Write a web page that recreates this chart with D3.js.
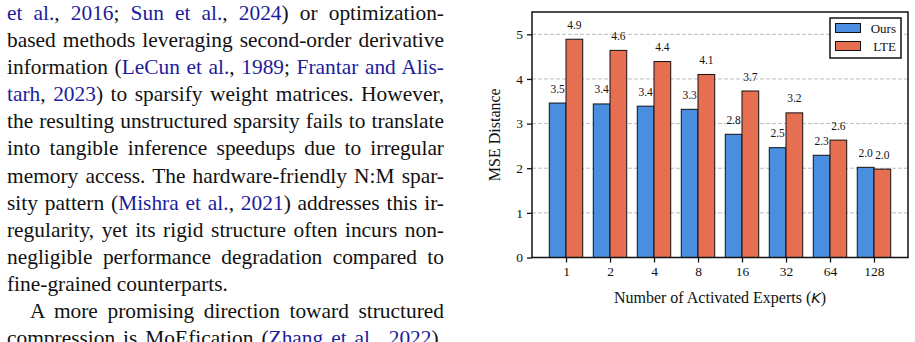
<!DOCTYPE html>
<html lang="en">
<head>
<meta charset="utf-8">
<script src="https://cdn.jsdelivr.net/npm/d3@7"></script>
<style>
  html, body { margin: 0; padding: 0; background: #fff; }
  body { width: 915px; height: 342px; overflow: hidden; position: relative; }
  #text { position: absolute; left: 7px; top: 0; width: 437px;
          font-family: "Liberation Serif", "Times New Roman", serif; font-size: 21.4px;
          line-height: 27.1px; color: #111; }
  #text div { white-space: nowrap; text-align: justify; text-align-last: justify; }
  #text div.last { text-align-last: left; }
  #text div.indent { padding-left: 23px; }
  #text a { color: #1c1c9c; text-decoration: none; }
  #chart { position: absolute; left: 0; top: 0; }
  .tick text { font-family: "Liberation Serif", "Times New Roman", serif; font-size: 13.5px; fill: #111; }
</style>
</head>
<body>

<div id="text">
  <div><a>et al.</a>, <a>2016</a>; <a>Sun et al.</a>, <a>2024</a>) or optimization-</div>
  <div>based methods leveraging second-order derivative</div>
  <div>information (<a>LeCun et al.</a>, <a>1989</a>; <a>Frantar and Alis-</a></div>
  <div><a>tarh</a>, <a>2023</a>) to sparsify weight matrices. However,</div>
  <div>the resulting unstructured sparsity fails to translate</div>
  <div>into tangible inference speedups due to irregular</div>
  <div>memory access. The hardware-friendly N:M spar-</div>
  <div>sity pattern (<a>Mishra et al.</a>, <a>2021</a>) addresses this ir-</div>
  <div>regularity, yet its rigid structure often incurs non-</div>
  <div>negligible performance degradation compared to</div>
  <div class="last">fine-grained counterparts.</div>
  <div class="indent">A more promising direction toward structured</div>
  <div>compression is MoEfication (<a>Zhang et al.</a>, <a>2022</a>),</div>
</div>

<svg id="chart" width="915" height="342"></svg>

<script type="text/javascript">
  "use strict";

  // data
  const categories = ["1", "2", "4", "8", "16", "32", "64", "128"];
  const ours = [3.46, 3.44, 3.39, 3.32, 2.76, 2.46, 2.29, 2.02];
  const lte  = [4.89, 4.64, 4.39, 4.10, 3.73, 3.24, 2.63, 1.98];
  const seriesNames = ["Ours", "LTE"];
  const yTicks = [0, 1, 2, 3, 4, 5];

  const colors = { Ours: "#4a8ee0", LTE: "#e76f51" };
  const serif = '"Liberation Serif", "Times New Roman", serif';

  // squeeze any justified line that is wider than the column
  d3.selectAll("#text div").each(function () {
    const el = this;
    let ls = 0;
    while (el.scrollWidth > el.clientWidth + 0.5 && ls > -1.5) {
      ls -= 0.05;
      el.style.letterSpacing = ls + "px";
    }
  });

  const pl = 532, pr = 908, pt = 12, pb = 257.5;
  const barW = 0.38;

  const svg = d3.select("#chart");

  const x = d3.scaleLinear().domain([-0.773, categories.length - 1 + 0.773]).range([pl, pr]);
  const y = d3.scaleLinear().domain([0, 5.5]).range([pb, pt]);

  // dashed grid
  svg.append("g").selectAll("line")
    .data(yTicks.filter(d => d > 0))
    .join("line")
      .attr("x1", pl).attr("x2", pr)
      .attr("y1", d => y(d)).attr("y2", d => y(d))
      .attr("stroke", "#bdbdbd").attr("stroke-width", 1)
      .attr("stroke-dasharray", "4,2");

  const series = [
    { name: "Ours", values: ours, off: -barW },
    { name: "LTE", values: lte, off: 0 }
  ];

  series.forEach(s => {
    const g = svg.append("g");
    g.selectAll("rect")
      .data(s.values)
      .join("rect")
        .attr("x", (d, i) => x(i + s.off))
        .attr("width", x(barW) - x(0))
        .attr("y", d => y(d))
        .attr("height", d => y(0) - y(d))
        .attr("fill", colors[s.name])
        .attr("stroke", "#111").attr("stroke-width", 1);
    g.selectAll("text")
      .data(s.values)
      .join("text")
        .attr("x", (d, i) => x(i + s.off + barW / 2))
        .attr("y", d => y(d) - 10.5)
        .attr("text-anchor", "middle")
        .attr("font-family", serif).attr("font-size", 11.5)
        .attr("fill", "#111")
        .text(d => d.toFixed(1));
  });

  // axes
  const xAxis = d3.axisBottom(x).tickValues(d3.range(categories.length))
    .tickFormat(i => categories[i]).tickSize(5).tickPadding(4);
  const yAxis = d3.axisLeft(y).tickValues(yTicks).tickFormat(d3.format("d"))
    .tickSize(5).tickPadding(4);

  svg.append("g").attr("transform", `translate(0,${pb})`).call(xAxis)
    .call(g => g.select(".domain").remove())
    .call(g => g.selectAll(".tick line").attr("stroke", "#111").attr("stroke-width", 1.3));
  svg.append("g").attr("transform", `translate(${pl},0)`).call(yAxis)
    .call(g => g.select(".domain").remove())
    .call(g => g.selectAll(".tick line").attr("stroke", "#111").attr("stroke-width", 1.3));

  // frame
  svg.append("rect")
    .attr("x", pl).attr("y", pt)
    .attr("width", pr - pl).attr("height", pb - pt)
    .attr("fill", "none").attr("stroke", "#111").attr("stroke-width", 1.5);

  // axis titles
  svg.append("text")
    .attr("transform", `translate(500,${(pt + pb) / 2}) rotate(-90)`)
    .attr("text-anchor", "middle")
    .attr("font-family", serif).attr("font-size", 16).attr("fill", "#111")
    .text("MSE Distance");

  const xl = svg.append("text")
    .attr("x", (pl + pr) / 2).attr("y", 303)
    .attr("text-anchor", "middle")
    .attr("font-family", serif).attr("font-size", 16).attr("fill", "#111");
  xl.append("tspan").text("Number of Activated Experts (");
  xl.append("tspan").attr("font-family", '"DejaVu Sans", sans-serif')
    .attr("font-style", "italic").attr("font-size", 14.5).text("K");
  xl.append("tspan").text(")");

  // legend
  const lg = svg.append("g");
  lg.append("rect").attr("x", 830).attr("y", 18).attr("width", 71).attr("height", 40)
    .attr("fill", "#fff").attr("stroke", "#111").attr("stroke-width", 1.5);
  seriesNames.forEach((n, i) => {
    lg.append("rect").attr("x", 835.5).attr("y", 23.5 + i * 18)
      .attr("width", 25).attr("height", 9)
      .attr("fill", colors[n]).attr("stroke", "#111").attr("stroke-width", 1);
    lg.append("text").attr("x", 896).attr("y", 32.5 + i * 18)
      .attr("text-anchor", "end")
      .attr("font-family", serif).attr("font-size", 13).attr("fill", "#111")
      .text(n);
  });
</script>

</body>
</html>
